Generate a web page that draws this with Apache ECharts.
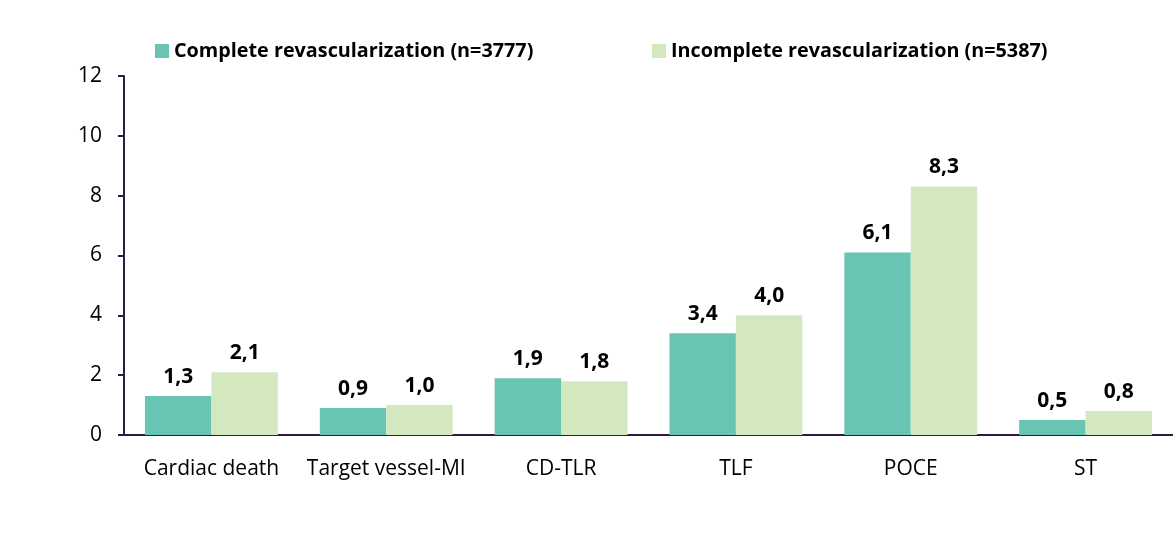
<!DOCTYPE html>
<html><head><meta charset="utf-8">
<script src="https://cdn.jsdelivr.net/npm/echarts@6/dist/echarts.min.js"></script>
<style>html,body{margin:0;padding:0;background:#fff}#c{width:1173px;height:540px}</style>
</head><body><div id="c"></div>
<script>
const categories = ['Cardiac death','Target vessel-MI','CD-TLR','TLF','POCE','ST'];
const seriesNames = ['Complete revascularization (n=3777)','Incomplete revascularization (n=5387)'];
const complete = [1.3,0.9,1.9,3.4,6.1,0.5];
const incomplete = [2.1,1.0,1.8,4.0,8.3,0.8];
const yTicks = [0,2,4,6,8,10,12];
const colors = ['#68C5B3','#D3E8BF'];
const font = '"Open Sans","Noto Sans",sans-serif';
const axisColor = '#2E1A47';
const chart = echarts.init(document.getElementById('c'));
const lbl = {show:true,position:'top',distance:9,color:'#000',fontWeight:'bold',fontSize:21,fontFamily:font,
  formatter:p=>p.value.toFixed(1).replace('.',',')};
const legText = {fontSize:19.8,fontWeight:'bold',fontFamily:font,color:'#000'};
chart.setOption({
  animation:false,
  color:colors,
  legend:[
    {data:[seriesNames[0]],left:150,top:36,itemWidth:14,itemHeight:14,icon:'rect',itemGap:5,textStyle:legText},
    {data:[seriesNames[1]],left:647,top:36,itemWidth:14,itemHeight:14,icon:'rect',itemGap:5,textStyle:legText}
  ],
  grid:{left:124,right:0,top:76,bottom:105,containLabel:false},
  xAxis:{type:'category',data:categories,
    axisLine:{lineStyle:{color:axisColor,width:2}},axisTick:{show:false},
    axisLabel:{fontSize:21,color:'#000',fontFamily:font,margin:24,interval:0}},
  yAxis:{type:'value',min:yTicks[0],max:yTicks[yTicks.length-1],interval:2,
    axisLine:{show:true,lineStyle:{color:axisColor,width:2}},
    axisTick:{show:true,length:6,lineStyle:{color:axisColor,width:2}},
    splitLine:{show:false},
    axisLabel:{fontSize:21,color:'#000',fontFamily:font,margin:22}},
  series:[
    {name:seriesNames[0],type:'bar',data:complete,barGap:'0%',barCategoryGap:'24%',label:lbl},
    {name:seriesNames[1],type:'bar',data:incomplete,barGap:'0%',barCategoryGap:'24%',label:lbl}
  ]
});
</script></body></html>
